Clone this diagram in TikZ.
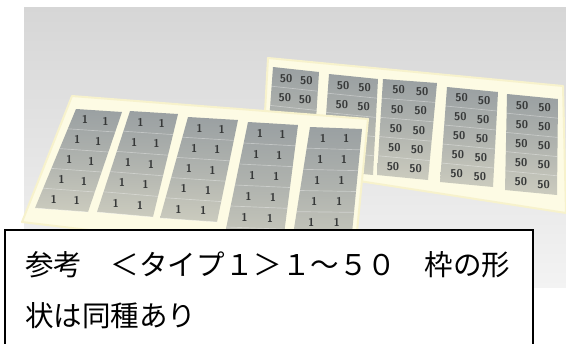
\documentclass[tikz,border=0pt]{standalone}
\usepackage{fontspec}
\newfontfamily\jpfont{Noto Sans CJK JP}
\usetikzlibrary{calc}
\definecolor{phototop}{RGB}{214,214,214}
\definecolor{photobottom}{RGB}{243,243,243}
\definecolor{cream}{RGB}{253,251,228}
\definecolor{creamedge}{RGB}{247,242,204}
\definecolor{labeldark}{RGB}{154,160,162}
\definecolor{labellight}{RGB}{203,203,190}
\definecolor{ink}{RGB}{55,57,57}

\begin{document}
\begin{tikzpicture}[x=0.75pt,y=-0.75pt,
  sheet/.style={fill=cream,draw=creamedge,line width=1.5pt,line join=round},
  stickerblock/.style={top color=labeldark,bottom color=labellight,middle color=labeldark!55!labellight},
  rowline/.style={white,opacity=0.35,line width=0.5pt},
  stickermark/.style={inner sep=0,text=ink,font=\sffamily\bfseries\fontsize{8.5}{8.5}\selectfont},
  note/.style={inner sep=0,anchor=west,font=\jpfont\fontsize{21.4}{21.4}\selectfont}]
\useasboundingbox (0,0) rectangle (566,343);
\clip (0,0) rectangle (566,343);
\shade[top color=phototop,bottom color=photobottom] (24,7) rectangle (566,287);
\draw[sheet] (268,58) -- (563,86) -- (566,213) -- (262,166) -- cycle;
\foreach \ax/\ay/\bx/\by/\cx/\cy/\dx/\dy/\m in {273/67/319/72/313/168/266/163/2,329/74/378/79/373/175/322/170/2,
  383/79/437/83/428/180/377/175/5,447/87/498/92/493/187/440/182/5,507/94/558/99/557/195/505/190/5}{
  \coordinate (tl) at (\ax,\ay);
  \coordinate (tr) at (\bx,\by);
  \coordinate (br) at (\cx,\cy);
  \coordinate (bl) at (\dx,\dy);
  \shade[stickerblock] (tl) -- (tr) -- (br) -- (bl) -- cycle;
  \foreach \v in {0.2,0.4,0.6,0.8}
    \draw[rowline] ($(tl)!\v!(bl)$) -- ($(tr)!\v!(br)$);
  \foreach \k in {1,...,\m}{
    \pgfmathsetmacro\v{(\k-0.5)/5}
    \foreach \u in {0.3,0.74}
      \node[stickermark] at ($($(tl)!\u!(tr)$)!\v!($(bl)!\u!(br)$)$) {50};
  }
}
\draw[sheet] (72,96) -- (368,119) -- (354,262) -- (22,222) -- cycle;
\foreach \ax/\ay/\bx/\by/\cx/\cy/\dx/\dy/\n in {76/109/122/112/88/212/35/208/5,130/111/178/114/153/217/97/212/5,
  188/117/238/120/217/222/160/218/5,248/122/298/125/282/250/222/248/6,310/127/362/129/350/254/290/254/6}{
  \coordinate (tl) at (\ax,\ay);
  \coordinate (tr) at (\bx,\by);
  \coordinate (br) at (\cx,\cy);
  \coordinate (bl) at (\dx,\dy);
  \shade[stickerblock] (tl) -- (tr) -- (br) -- (bl) -- cycle;
  \foreach \k in {1,...,\n}{
    \pgfmathsetmacro\w{\k/\n}
    \draw[rowline] ($(tl)!\w!(bl)$) -- ($(tr)!\w!(br)$);
  }
  \foreach \k in {1,...,5}{
    \pgfmathsetmacro\v{(\k-0.5)/\n}
    \foreach \u in {0.28,0.72}
      \node[stickermark] at ($($(tl)!\u!(tr)$)!\v!($(bl)!\u!(br)$)$) {1};
  }
}
\draw[fill=white,line width=1.5pt] (4.5,230) rectangle (532.5,360);
\node (line1) [note] at (25,265) {参考　＜タイプ１＞１～５０　枠の形};
\node (line2) [note] at (25,316) {状は同種あり};
\end{tikzpicture}
\end{document}
